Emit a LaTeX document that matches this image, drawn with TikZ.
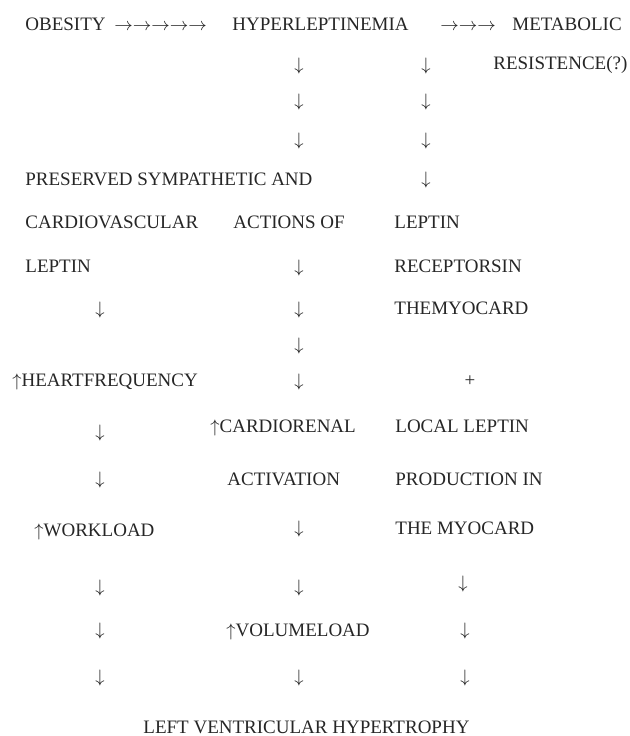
\documentclass[tikz,border=0pt]{standalone}
\usepackage{fontspec}
\setmainfont{Liberation Serif}

\begin{document}
\begin{tikzpicture}[x=0.5pt,y=-0.5pt,font=\fontsize{9.5}{11}\selectfont,text=black!85]
				\tikzset{word/.style = {anchor=base west, inner sep=0pt},
					arr/.style = {anchor=base, inner sep=0pt}}
				\useasboundingbox (0,0) rectangle (629,736);
				% first line
				\node[word] (OBESITY) at (25,30) {OBESITY};
				\node[word] (ARROWA) at (114,30) {$\rightarrow\rightarrow\rightarrow\rightarrow\rightarrow$};
				\node[word] (HYPER) at (232,30) {HYPERLEPTINEMIA};
				\node[word] (ARROWB) at (440,30) {$\rightarrow\rightarrow\rightarrow$};
				\node[word] (METAB) at (512,30) {METABOLIC};
				\node[word] (RESIST) at (493,69) {RESISTENCE(?)};
				% down from hyperleptinemia
				\node[arr] (MA) at (299,70) {$\downarrow$};
				\node[arr] (MB) at (299,106) {$\downarrow$};
				\node[arr] (MC) at (299,145) {$\downarrow$};
				\node[arr] (RA) at (426,70) {$\downarrow$};
				\node[arr] (RB) at (426,106) {$\downarrow$};
				\node[arr] (RC) at (426,145) {$\downarrow$};
				\node[arr] (RD) at (426,184) {$\downarrow$};
				% sympathetic actions
				\node[word] (PRESERVED) at (25,185) {PRESERVED SYMPATHETIC AND};
				\node[word] (CARDIOVASC) at (25,228) {CARDIOVASCULAR};
				\node[word] (ACTIONS) at (233,228) {ACTIONS OF};
				\node[word] (LEPTINA) at (25,272) {LEPTIN};
				\node[arr] (MD) at (299,272) {$\downarrow$};
				\node[arr] (LA) at (100,314) {$\downarrow$};
				\node[arr] (ME) at (299,314) {$\downarrow$};
				\node[arr] (MF) at (299,350) {$\downarrow$};
				% leptin receptors
				\node[word] (LEPTINB) at (394,228) {LEPTIN};
				\node[word] (RECEPT) at (394,272) {RECEPTORSIN};
				\node[word] (MYOCA) at (394,314) {THEMYOCARD};
				\node[arr] (PLUS) at (470,386) {+};
				\node[word] (LOCAL) at (395,432) {LOCAL LEPTIN};
				\node[word] (PRODUC) at (395,485) {PRODUCTION IN};
				\node[word] (MYOCB) at (395,534) {THE MYOCARD};
				% heart frequency and workload
				\node[word] (HEART) at (12,386) {$\uparrow$HEARTFREQUENCY};
				\node[arr] (MG) at (299,386) {$\downarrow$};
				\node[arr] (LB) at (100,437) {$\downarrow$};
				\node[arr] (LC) at (100,484) {$\downarrow$};
				\node[word] (WORK) at (34,536) {$\uparrow$WORKLOAD};
				% cardiorenal
				\node[word] (CARDIOREN) at (210,432) {$\uparrow$CARDIORENAL};
				\node[word] (ACTIV) at (227,485) {ACTIVATION};
				\node[arr] (MH) at (299,533) {$\downarrow$};
				% towards hypertrophy
				\node[arr] (LD) at (100,592) {$\downarrow$};
				\node[arr] (MI) at (299,592) {$\downarrow$};
				\node[arr] (RE) at (463,588) {$\downarrow$};
				\node[arr] (LE) at (100,635) {$\downarrow$};
				\node[word] (VOLUME) at (226,636) {$\uparrow$VOLUMELOAD};
				\node[arr] (RF) at (465,635) {$\downarrow$};
				\node[arr] (LF) at (100,682) {$\downarrow$};
				\node[arr] (MJ) at (299,682) {$\downarrow$};
				\node[arr] (RG) at (465,682) {$\downarrow$};
				\node[word] (LVH) at (143,733) {LEFT VENTRICULAR HYPERTROPHY};
				
				\end{tikzpicture}
\end{document}
